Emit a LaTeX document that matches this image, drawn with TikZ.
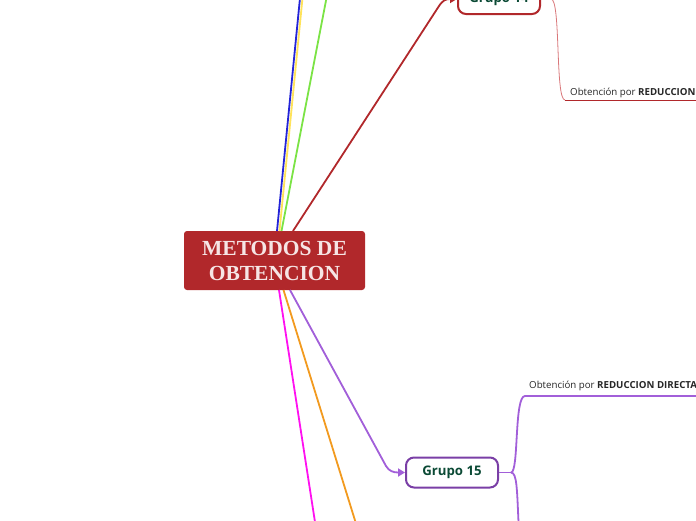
\documentclass[tikz,border=0pt]{standalone}
\usepackage{fontspec}
\setmainfont{Open Sans}
\newfontfamily\titlefont{Liberation Serif}
\usetikzlibrary{arrows.meta}
\definecolor{cred}{HTML}{B1282B}
\definecolor{cgreen}{HTML}{0B4A35}
\definecolor{cpurple}{HTML}{A25FD9}
\definecolor{cpurpledk}{HTML}{7A3FA6}
\definecolor{cblue}{HTML}{2424D8}
\definecolor{cyellow}{HTML}{FFE35A}
\definecolor{clime}{HTML}{7BE345}
\definecolor{cmag}{HTML}{FF10F0}
\definecolor{corange}{HTML}{F29A1F}
\definecolor{clightred}{HTML}{D9777A}
\tikzset{
  groupbox/.style={draw, line width=2pt, rounded corners=8pt, fill=white, text=cgreen,
    font=\fontsize{13.2}{15}\selectfont\bfseries, minimum height=30pt, inner xsep=0pt},
  branch/.style={line width=1.8pt},
  leaf/.style={font=\fontsize{9.7}{11}\selectfont, anchor=base west, inner sep=0pt, text=black!85},
  tip/.style={-{Triangle[length=7pt,width=8pt]}}
}
\begin{document}
\begin{tikzpicture}[x=1pt,y=-1pt]
\useasboundingbox (0,0) rectangle (696,520);
% central node
\node[fill=cred, rounded corners=3pt, minimum width=181pt, minimum height=59pt, inner sep=0pt,
  align=center, text=white!88!cred, font=\titlefont\fontsize{21.5}{25}\selectfont\bfseries]
  (root) at (274.5,260.5) {METODOS DE\\OBTENCION};
% groups
\node[groupbox, draw=cred, minimum width=82pt] (g14) at (499,-1) {Grupo 14};
\node[groupbox, draw=cpurpledk, minimum width=92pt] (g15) at (452,472.5) {Grupo 15};
% free ends
\coordinate (b1) at (300,-2); \coordinate (b0) at (277,231);
\coordinate (y1) at (302.5,-2); \coordinate (y0) at (279.5,231);
\coordinate (l1) at (326.5,-2); \coordinate (l0) at (281.5,231);
\coordinate (m0) at (279,290); \coordinate (m1) at (315,522);
\coordinate (o0) at (283.5,290); \coordinate (o1) at (355.5,522);
\coordinate (r0) at (293,231);
\coordinate (p0) at (290,290);
% connectors off-page
\draw[cblue, branch] (b0) -- (b1);
\draw[cyellow, branch] (y0) -- (y1);
\draw[clime, branch] (l0) -- (l1);
\draw[cmag, branch] (m0) -- (m1);
\draw[corange, branch] (o0) -- (o1);
% connectors to groups
\draw[cred, branch, tip] (r0) -- (439,6) .. controls (443,0) and (446,-1) .. (g14.west);
\draw[cpurple, branch, tip] (p0) -- (386,466) .. controls (389,471) and (393,472.5) .. (g15.west);
% Grupo 14 child
\coordinate (c14) at (565,100);
\draw[clightred, line width=0.8pt] (g14.east) -- (551,-1) .. controls (561,-1) and (555,100) .. (c14);
\draw[cred, line width=1pt] (c14) -- (697,100);
\node[leaf] (t14) at (570,95) {Obtención por \textbf{REDUCCION}};
% Grupo 15 children
\coordinate (j15) at (511,472.5);
\draw[cpurple, branch] (g15.east) -- (j15);
\draw[cpurple, branch] (j15) .. controls (519,472.5) and (514,396) .. (525,396) -- (697,396);
\draw[cpurple, branch] (j15) .. controls (517,472.5) and (517,490) .. (518.5,522);
\node[leaf] (t15) at (529,388.5) {Obtención por \textbf{REDUCCION DIRECTA}};
\end{tikzpicture}
\end{document}
